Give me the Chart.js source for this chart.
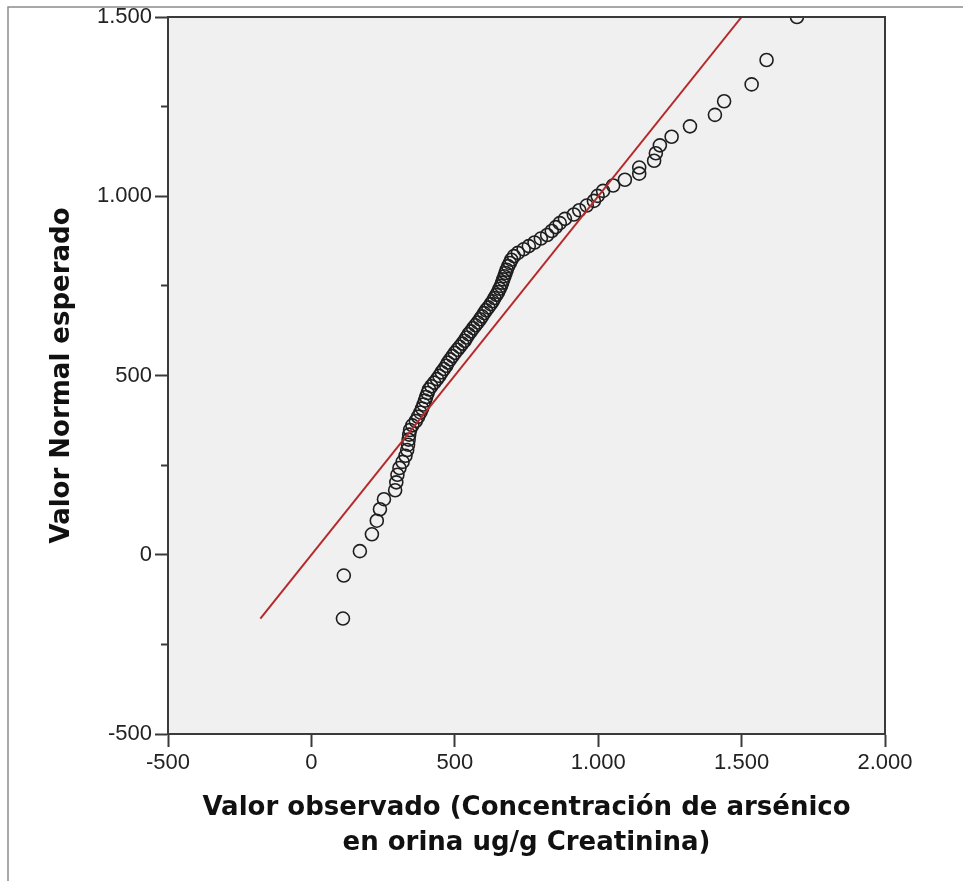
<!DOCTYPE html>
<html>
<head>
<meta charset="utf-8">
<title>Gráfico Q-Q normal</title>
<script src="https://cdn.jsdelivr.net/npm/chart.js@4/dist/chart.umd.min.js"></script>
<style>
  html, body { margin: 0; padding: 0; background: #ffffff; }
  #wrap { width: 963px; height: 881px; }
</style>
</head>
<body>
<div id="wrap"><canvas id="qq" width="963" height="881"></canvas></div>
<script>
// Observed urinary arsenic values (ug/g creatinine), sorted
const observedValues = [
  110, 113, 169, 211, 228, 239, 253, 292, 296, 300,
  307, 318, 328, 334, 337, 339, 341, 344, 352, 364,
  372, 380, 386, 391, 396, 400, 405, 410, 418, 428,
  438, 446, 454, 462, 470, 476, 484, 492, 500, 509,
  517, 526, 534, 541, 548, 556, 564, 572, 580, 588,
  595, 602, 609, 617, 625, 632, 638, 645, 651, 656,
  661, 665, 669, 673, 677, 681, 686, 692, 697, 706,
  720, 740, 758, 778, 800, 822, 838, 852, 866, 884,
  915, 934, 960, 985, 998, 1017, 1052, 1093, 1143, 1143,
  1195, 1201, 1215, 1256, 1320, 1407, 1439, 1535, 1587, 1693
];

// Expected normal value for each rank
const expectedValues = [
  -178, -58, 10, 57, 95, 127, 155, 180, 202, 223,
  242, 259, 276, 292, 307, 321, 335, 348, 361, 373,
  385, 397, 408, 419, 430, 440, 451, 461, 470, 480,
  490, 499, 509, 518, 527, 536, 545, 554, 563, 572,
  580, 589, 597, 606, 615, 623, 632, 640, 648, 657,
  665, 674, 682, 690, 699, 707, 716, 725, 733, 742,
  750, 759, 768, 777, 786, 795, 805, 814, 823, 833,
  842, 852, 861, 871, 882, 892, 903, 914, 925, 937,
  949, 961, 974, 987, 1001, 1015, 1030, 1046, 1063, 1080,
  1099, 1120, 1142, 1166, 1195, 1227, 1265, 1312, 1380, 1500
];

// Reference line (observed = expected) endpoints
const referenceLine = [-178, 1500];

// Axis ranges and tick steps
const xRange = [-500, 2000];
const yRange = [-500, 1500];
const majorStep = 500;
const minorStep = 250;

const xTitle = ['Valor observado (Concentración de arsénico', 'en orina ug/g Creatinina)'];
const yTitle = 'Valor Normal esperado';

function formatThousands(v) {
  const sign = v < 0 ? '-' : '';
  const s = String(Math.abs(Math.round(v)));
  return sign + s.replace(/\B(?=(\d{3})+(?!\d))/g, '.');
}

const points = observedValues.map((x, i) => ({ x: x, y: expectedValues[i] }));
const linePts = referenceLine.map(v => ({ x: v, y: v }));

const AXIS = '#3a3a3a';
const tickFont = { family: 'Liberation Sans, Arial, sans-serif', size: 22 };
const titleFont = { family: 'DejaVu Sans, Verdana, sans-serif', size: 26, weight: 'bold' };

const backdrop = {
  id: 'backdrop',
  beforeDraw(chart) {
    const { ctx, chartArea: a, width, height } = chart;
    ctx.save();
    ctx.fillStyle = '#ffffff';
    ctx.fillRect(0, 0, width, height);
    // outer panel border
    ctx.strokeStyle = '#8c8c8c';
    ctx.lineWidth = 1.5;
    ctx.beginPath();
    ctx.moveTo(8, height);
    ctx.lineTo(8, 7);
    ctx.lineTo(width, 7);
    ctx.stroke();
    // plot area
    ctx.fillStyle = '#f0f0f0';
    ctx.fillRect(a.left, a.top, a.right - a.left, a.bottom - a.top);
    ctx.restore();
  },
  afterDraw(chart) {
    const { ctx, chartArea: a } = chart;
    ctx.save();
    ctx.strokeStyle = AXIS;
    ctx.lineWidth = 2;
    ctx.strokeRect(a.left, a.top, a.right - a.left, a.bottom - a.top);
    ctx.restore();
  }
};

new Chart(document.getElementById('qq'), {
  type: 'scatter',
  data: {
    datasets: [
      {
        label: 'Referencia',
        data: linePts,
        showLine: true,
        borderColor: '#b52a2a',
        borderWidth: 2,
        pointRadius: 0,
        fill: false,
        clip: 0,
        xAxisID: 'x',
        yAxisID: 'y'
      },
      {
        label: 'Observado',
        data: points,
        showLine: false,
        pointStyle: 'circle',
        pointRadius: 6.5,
        pointBorderWidth: 1.6,
        pointBorderColor: '#1e1e1e',
        pointBackgroundColor: 'rgba(0,0,0,0)',
        clip: 0,
        xAxisID: 'x',
        yAxisID: 'y'
      }
    ]
  },
  options: {
    responsive: false,
    animation: false,
    devicePixelRatio: 1,
    layout: { padding: { top: 17, right: 78, left: 0, bottom: 0 } },
    plugins: {
      legend: { display: false },
      tooltip: { enabled: false }
    },
    scales: {
      x: {
        type: 'linear',
        position: 'bottom',
        min: xRange[0],
        max: xRange[1],
        afterFit(scale) { scale.height = 147; },
        ticks: {
          stepSize: majorStep,
          autoSkip: false,
          maxRotation: 0,
          padding: 3,
          color: '#222222',
          font: tickFont,
          callback: v => formatThousands(v)
        },
        grid: {
          drawOnChartArea: false,
          drawTicks: true,
          tickLength: 13,
          tickWidth: 2,
          tickColor: AXIS
        },
        border: { display: true, color: AXIS, width: 2 },
        title: {
          display: true,
          text: xTitle,
          color: '#111111',
          font: Object.assign({ lineHeight: 35 / 26 }, titleFont),
          padding: { top: 0, bottom: 20 }
        }
      },
      y: {
        type: 'linear',
        position: 'left',
        weight: 1,
        min: yRange[0],
        max: yRange[1],
        afterFit(scale) { scale.width = 168; },
        ticks: {
          stepSize: majorStep,
          autoSkip: false,
          padding: 3,
          color: '#222222',
          font: tickFont,
          callback: v => formatThousands(v)
        },
        grid: {
          drawOnChartArea: false,
          drawTicks: true,
          tickLength: 13,
          tickWidth: 2,
          tickColor: AXIS
        },
        border: { display: true, color: AXIS, width: 2 },
        title: {
          display: true,
          text: yTitle,
          color: '#111111',
          font: Object.assign({ lineHeight: 1.2 }, titleFont),
          padding: { top: 47, bottom: 0 }
        }
      },
      yMinor: {
        type: 'linear',
        position: 'left',
        weight: 0,
        min: yRange[0],
        max: yRange[1],
        afterFit(scale) { scale.width = 0; },
        ticks: { stepSize: minorStep, autoSkip: false, display: false },
        grid: {
          drawOnChartArea: false,
          drawTicks: true,
          tickLength: 7,
          tickWidth: 2,
          tickColor: ctx => (ctx.tick && ctx.tick.value % majorStep !== 0) ? AXIS : 'rgba(0,0,0,0)'
        },
        border: { display: false }
      }
    }
  },
  plugins: [backdrop]
});
</script>
</body>
</html>
